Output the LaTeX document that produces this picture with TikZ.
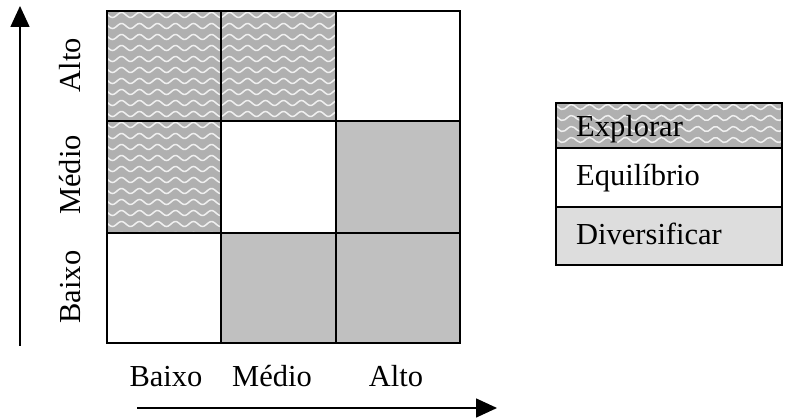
\documentclass[tikz,border=0pt]{standalone}
\usepackage{fontspec}
\setmainfont{Liberation Serif}
\usetikzlibrary{arrows.meta}
\definecolor{hatchbg}{HTML}{B0B0B0}
\definecolor{wavecol}{HTML}{F0F0F0}
\definecolor{cellgray}{HTML}{C0C0C0}
\definecolor{legendgray}{HTML}{DDDDDD}
\newcommand\wavyrect[4]{%
  \begin{scope}
    \clip (#1,#2) rectangle (#3,#4);
    \fill[hatchbg] (#1,#2) rectangle (#3,#4);
    \foreach \k in {0,...,11}{
      \draw[wavecol, line width=1.5pt] plot[domain=#1-10:#3+10, samples=80, smooth]
        (\x, {#2+4+\k*11+2.5*sin(\x*20)});
    }
  \end{scope}}
\tikzset{
  lbl/.style={font=\fontsize{30.5}{34}\selectfont, inner sep=0pt},
  gridline/.style={line width=2pt, black},
  axisarrow/.style={line width=1.6pt, -{Triangle[length=21pt,width=19pt]}},
}
\begin{document}
\begin{tikzpicture}[x=1pt,y=-1pt]
\useasboundingbox (0,0) rectangle (803,419);
% grid cells
\wavyrect{107}{11}{221}{121}
\wavyrect{221}{11}{336}{121}
\wavyrect{107}{121}{221}{233}
\fill[cellgray] (336,121) rectangle (460,233);
\fill[cellgray] (221,233) rectangle (460,343);
\draw[gridline] (107,11) rectangle (460,343);
\draw[gridline] (221,11) -- (221,343);
\draw[gridline] (336,11) -- (336,343);
\draw[gridline] (107,121) -- (460,121);
\draw[gridline] (107,233) -- (460,233);
% legend
\wavyrect{556}{103}{782}{148}
\fill[legendgray] (556,207) rectangle (782,265);
\draw[gridline] (556,103) rectangle (782,265);
\draw[gridline] (556,148) -- (782,148);
\draw[gridline] (556,207) -- (782,207);
\node[lbl, anchor=base west] (lexp) at (576,137) {Explorar};
\node[lbl, anchor=base west] (lequ) at (576,186) {Equilíbrio};
\node[lbl, anchor=base west] (ldiv) at (576,245) {Diversificar};
% axis labels
\node[lbl, rotate=90, anchor=base] (yalto) at (80,65) {Alto};
\node[lbl, rotate=90, anchor=base] (ymed) at (80,175) {Médio};
\node[lbl, rotate=90, anchor=base] (ybai) at (80,287) {Baixo};
\node[lbl, anchor=base] (xbai) at (166,387) {Baixo};
\node[lbl, anchor=base] (xmed) at (272,387) {Médio};
\node[lbl, anchor=base] (xalto) at (396,387) {Alto};
% arrows
\coordinate (ya) at (20,346);
\coordinate (yb) at (20,6);
\coordinate (xa) at (137,408);
\coordinate (xb) at (497,408);
\draw[axisarrow] (ya) -- (yb);
\draw[axisarrow] (xa) -- (xb);
\end{tikzpicture}
\end{document}
